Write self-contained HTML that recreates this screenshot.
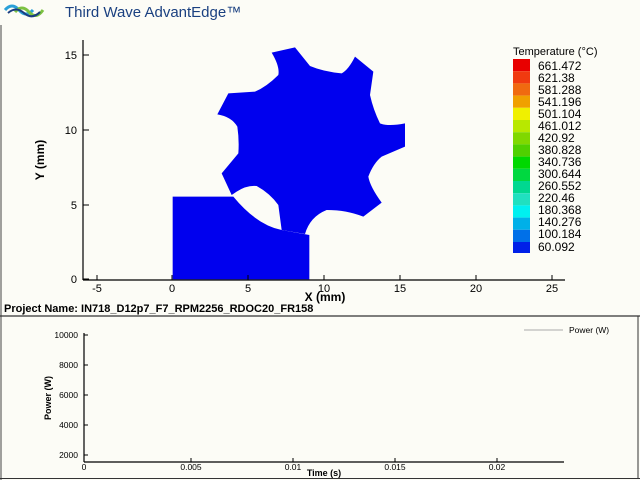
<!DOCTYPE html>
<html><head><meta charset="utf-8"><style>
html,body{margin:0;padding:0;background:#fdfdf8;}
svg{display:block;font-family:"Liberation Sans",Arial,sans-serif;}
</style></head><body>
<svg width="640" height="480" viewBox="0 0 640 480" xmlns="http://www.w3.org/2000/svg">
<rect width="640" height="480" fill="#fcfcf6"/>
<!-- logo -->
<path d="M5,10 Q12,2 19,10 T33,10" stroke="#2aa0d8" stroke-width="3" fill="none"/>
<path d="M15,12 Q22,4 29,12 T43,10" stroke="#7cc242" stroke-width="3" fill="none"/>
<path d="M8,13 Q16,6 24,13 T40,12" stroke="#1a3d80" stroke-width="2" fill="none"/>
<text x="65" y="17" font-size="15" fill="#1a4080">Third Wave AdvantEdge™</text>
<!-- frame lines -->
<line x1="1" y1="25" x2="1" y2="480" stroke="#444" stroke-width="1"/>
<line x1="0" y1="316" x2="640" y2="316" stroke="#333" stroke-width="1.2"/>
<line x1="638" y1="316" x2="638" y2="479" stroke="#333" stroke-width="1"/>
<line x1="0" y1="478.5" x2="640" y2="478.5" stroke="#333" stroke-width="1"/>
<!-- shapes -->
<g transform="translate(160,30) scale(0.33333)" fill="#0000ee">
<path d="M38,500 L220,500 Q290,585 365,600 L448,615 L448,748 L38,748 Z"/>
<path d="M335,68 L405,52 L450,108 Q490,125 545,130 Q565,120 585,80 L640,125 L630,195 Q640,240 660,280 Q685,290 735,280 L735,350 L665,380 Q640,400 625,440 Q630,470 665,518 L610,560 Q560,540 500,540 Q450,560 435,612 L365,600 L355,525 Q330,490 290,468 Q260,465 230,485 L215,495 L185,430 L235,370 Q238,330 232,290 Q215,260 172,253 L205,190 L285,185 Q320,170 355,135 Q360,110 335,68 Z"/>
</g>
<!-- top axes -->
<g stroke="#000" stroke-width="1.2">
<line x1="83" y1="40" x2="83" y2="280"/>
<line x1="83" y1="280" x2="565" y2="280"/>
</g>
<g stroke="#000" stroke-width="1">
<line x1="97" y1="275" x2="97" y2="280"/><line x1="172" y1="275" x2="172" y2="280"/><line x1="248" y1="275" x2="248" y2="280"/><line x1="324" y1="275" x2="324" y2="280"/><line x1="400" y1="275" x2="400" y2="280"/><line x1="476" y1="275" x2="476" y2="280"/><line x1="552" y1="275" x2="552" y2="280"/>
<line x1="83" y1="55" x2="89" y2="55"/><line x1="83" y1="130" x2="89" y2="130"/><line x1="83" y1="205" x2="89" y2="205"/><line x1="83" y1="279" x2="89" y2="279"/>
</g>
<g font-size="11" fill="#000" text-anchor="middle">
<text x="97" y="292">-5</text><text x="172" y="292">0</text><text x="248" y="292">5</text><text x="324" y="292">10</text><text x="400" y="292">15</text><text x="476" y="292">20</text><text x="552" y="292">25</text>
</g>
<g font-size="11" fill="#000" text-anchor="end">
<text x="77" y="59">15</text><text x="77" y="134">10</text><text x="77" y="209">5</text><text x="77" y="283">0</text>
</g>
<text x="325" y="301" font-size="12" font-weight="bold" text-anchor="middle">X (mm)</text>
<text transform="translate(44,160) rotate(-90)" font-size="12" font-weight="bold" text-anchor="middle">Y (mm)</text>
<!-- legend -->
<text x="513" y="55" font-size="11">Temperature (°C)</text>
<g>
<rect x="513" y="59" width="17" height="12.2" fill="#e80000"/>
<rect x="513" y="71.2" width="17" height="12.2" fill="#f03a10"/>
<rect x="513" y="83.4" width="17" height="12.2" fill="#f06a10"/>
<rect x="513" y="95.6" width="17" height="12.2" fill="#f0a000"/>
<rect x="513" y="107.8" width="17" height="12.2" fill="#f0f000"/>
<rect x="513" y="120" width="17" height="12.2" fill="#b8e800"/>
<rect x="513" y="132.2" width="17" height="12.2" fill="#80d800"/>
<rect x="513" y="144.4" width="17" height="12.2" fill="#50d000"/>
<rect x="513" y="156.6" width="17" height="12.2" fill="#00d800"/>
<rect x="513" y="168.8" width="17" height="12.2" fill="#00d840"/>
<rect x="513" y="181" width="17" height="12.2" fill="#00d890"/>
<rect x="513" y="193.2" width="17" height="12.2" fill="#20e0c0"/>
<rect x="513" y="205.4" width="17" height="12.2" fill="#00f0f0"/>
<rect x="513" y="217.6" width="17" height="12.2" fill="#00b0e8"/>
<rect x="513" y="229.8" width="17" height="12.2" fill="#0070e8"/>
<rect x="513" y="242" width="17" height="11" fill="#0020e8"/>
</g>
<g font-size="12" fill="#000">
<text x="538" y="70">661.472</text><text x="538" y="82">621.38</text><text x="538" y="94">581.288</text><text x="538" y="106">541.196</text><text x="538" y="118">501.104</text><text x="538" y="130">461.012</text><text x="538" y="142">420.92</text><text x="538" y="154">380.828</text><text x="538" y="166">340.736</text><text x="538" y="178">300.644</text><text x="538" y="190">260.552</text><text x="538" y="202">220.46</text><text x="538" y="214">180.368</text><text x="538" y="226">140.276</text><text x="538" y="238">100.184</text><text x="538" y="251">60.092</text>
</g>
<text x="4" y="312" font-size="11" font-weight="bold">Project Name: IN718_D12p7_F7_RPM2256_RDOC20_FR158</text>
<!-- bottom chart -->
<g stroke="#000" stroke-width="1.2">
<line x1="84" y1="333" x2="84" y2="462"/>
<line x1="84" y1="462" x2="564" y2="462"/>
</g>
<g stroke="#000" stroke-width="1">
<line x1="84" y1="335" x2="88" y2="335"/><line x1="84" y1="365" x2="88" y2="365"/><line x1="84" y1="395" x2="88" y2="395"/><line x1="84" y1="425" x2="88" y2="425"/><line x1="84" y1="455" x2="88" y2="455"/>
<line x1="191" y1="458" x2="191" y2="462"/><line x1="293" y1="458" x2="293" y2="462"/><line x1="395" y1="458" x2="395" y2="462"/><line x1="497" y1="458" x2="497" y2="462"/>
</g>
<g font-size="8.5" fill="#000" text-anchor="end">
<text x="78" y="338">10000</text><text x="78" y="368">8000</text><text x="78" y="398">6000</text><text x="78" y="428">4000</text><text x="78" y="458">2000</text>
</g>
<g font-size="8.5" fill="#000" text-anchor="middle">
<text x="84" y="470">0</text><text x="191" y="470">0.005</text><text x="293" y="470">0.01</text><text x="395" y="470">0.015</text><text x="497" y="470">0.02</text>
</g>
<text x="324" y="476" font-size="9" font-weight="bold" text-anchor="middle">Time (s)</text>
<text transform="translate(51,398) rotate(-90)" font-size="9" font-weight="bold" text-anchor="middle">Power (W)</text>
<line x1="524" y1="330" x2="563" y2="330" stroke="#aaa" stroke-width="1"/>
<text x="569" y="333" font-size="8.5">Power (W)</text>
</svg>
</body></html>
